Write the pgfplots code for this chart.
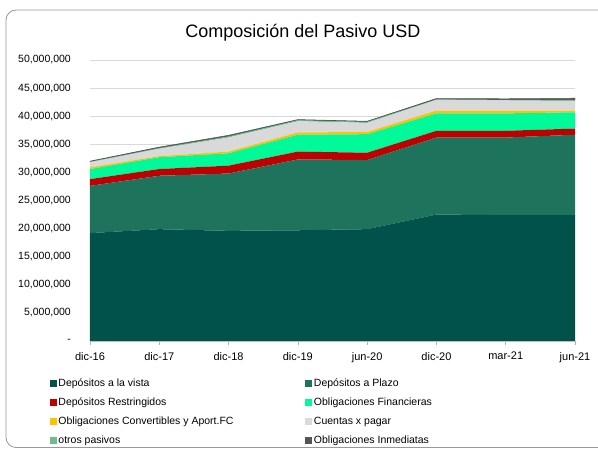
\documentclass[border=0pt]{standalone}
\usepackage{fontspec}
\setmainfont{Liberation Sans}
\usepackage{pgfplots}
\pgfplotsset{compat=1.18}
\definecolor{cvista}{HTML}{00524A}
\definecolor{cplazo}{HTML}{1E735C}
\definecolor{crestr}{HTML}{C00000}
\definecolor{cfin}{HTML}{00FA9A}
\definecolor{cconv}{HTML}{FFC000}
\definecolor{ccxp}{HTML}{D9D9D9}
\definecolor{cotros}{HTML}{6DBE8C}
\definecolor{cinmed}{HTML}{555555}
\begin{document}
\begin{tikzpicture}[x=1pt,y=1pt]
\useasboundingbox (0,0) rectangle (598,450);
\draw[color=black!40, line width=0.8pt, rounded corners=10pt] (6,2.5) rectangle (650,440);
\node[font=\fontsize{18}{20}\selectfont] at (303,417) {Composición del Pasivo USD};
\begin{axis}[
  at={(90pt,109pt)}, anchor=south west,
  scale only axis, width=485pt, height=281pt,
  xmin=0, xmax=7, ymin=0, ymax=50000000,
  stack plots=y, area style, axis on top=false,
  scaled y ticks=false,
  legend image code/.code={\fill[#1, draw=none] (0pt,-3.5pt) rectangle (7pt,3.5pt);},
  axis lines*=left,
  x axis line style={color=black!25, line width=0.8pt},
  y axis line style={draw=none},
  tick align=outside, major tick length=4pt,
  x tick style={color=black!30, line width=0.6pt},
  y tick style={draw=none},
  xtick={0,1,2,3,4,5,6,7},
  xticklabels={dic-16,dic-17,dic-18,dic-19,jun-20,dic-20,mar-21,jun-21},
  ytick={0,5000000,10000000,15000000,20000000,25000000,30000000,35000000,40000000,45000000,50000000},
  yticklabels={{-},{5,000,000},{10,000,000},{15,000,000},{20,000,000},{25,000,000},{30,000,000},{35,000,000},{40,000,000},{45,000,000},{50,000,000}},
  ticklabel style={font=\fontsize{10.5}{12}\selectfont, text=black},
  yticklabel style={inner sep=0pt, xshift=-15pt},
  xticklabel style={yshift=-3.5pt, font=\fontsize{11}{12}\selectfont},
  ymajorgrids, major grid style={color=black!15, line width=0.7pt},
  legend columns=2,
  legend cell align=left,
  legend style={at={(-0.0825,-0.1317)}, anchor=north west, draw=none, fill=none,
    inner sep=0pt, outer sep=0pt,
    font=\fontsize{10.5}{12}\selectfont,
    nodes={inner sep=0pt, text height=8pt, text depth=2.5pt},
    row sep=8.5pt,
    /tikz/every odd column/.append style={column sep=1.5pt},
    /tikz/every even column/.append style={column sep=2pt}},
]
\addplot[fill=cvista, draw=none] coordinates {(0,19200000) (1,19900000) (2,19600000) (3,19700000) (4,19900000) (5,22500000) (6,22400000) (7,22400000)} \closedcycle;
\addlegendentry{\makebox[245pt][l]{Depósitos a la vista}}
\addplot[fill=cplazo, draw=none] coordinates {(0,8400000) (1,9500000) (2,10200000) (3,12600000) (4,12300000) (5,13700000) (6,13800000) (7,14300000)} \closedcycle;
\addlegendentry{Depósitos a Plazo}
\addplot[fill=crestr, draw=none] coordinates {(0,1200000) (1,1200000) (2,1400000) (3,1400000) (4,1300000) (5,1200000) (6,1200000) (7,1100000)} \closedcycle;
\addlegendentry{\makebox[245pt][l]{Depósitos Restringidos}}
\addplot[fill=cfin, draw=none] coordinates {(0,1800000) (1,2100000) (2,2200000) (3,3000000) (4,3300000) (5,3100000) (6,3100000) (7,2900000)} \closedcycle;
\addlegendentry{Obligaciones Financieras}
\addplot[fill=cconv, draw=none] coordinates {(0,300000) (1,200000) (2,300000) (3,400000) (4,400000) (5,500000) (6,500000) (7,300000)} \closedcycle;
\addlegendentry{\makebox[245pt][l]{Obligaciones Convertibles y Aport.FC}}
\addplot[fill=ccxp, draw=none] coordinates {(0,900000) (1,1300000) (2,2500000) (3,2000000) (4,1600000) (5,1900000) (6,1800000) (7,1700000)} \closedcycle;
\addlegendentry{Cuentas x pagar}
\addplot[fill=cotros, draw=none] coordinates {(0,100000) (1,150000) (2,200000) (3,200000) (4,200000) (5,100000) (6,100000) (7,200000)} \closedcycle;
\addlegendentry{\makebox[245pt][l]{otros pasivos}}
\addplot[fill=cinmed, draw=cinmed, line width=0.5pt] coordinates {(0,100000) (1,150000) (2,200000) (3,100000) (4,100000) (5,150000) (6,200000) (7,300000)} \closedcycle;
\addlegendentry{Obligaciones Inmediatas}
\end{axis}
\end{tikzpicture}
\end{document}
